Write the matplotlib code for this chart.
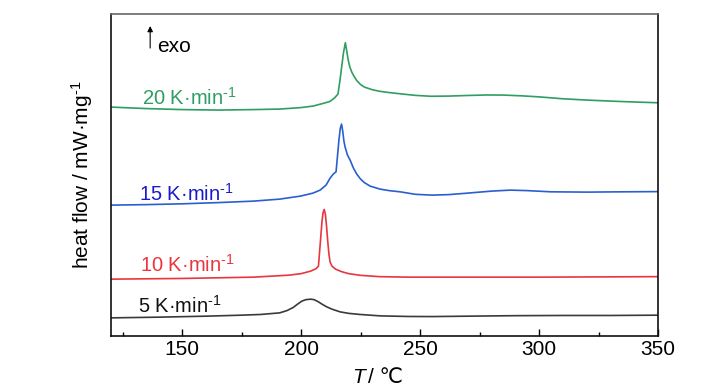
import matplotlib
matplotlib.use("Agg")
import matplotlib.pyplot as plt
from matplotlib.ticker import MultipleLocator

FAM = ['Liberation Sans', 'DejaVu Sans']
plt.rcParams['font.family'] = FAM
plt.rcParams['mathtext.fontset'] = 'custom'
plt.rcParams['mathtext.rm'] = 'Liberation Sans'
plt.rcParams['mathtext.it'] = 'Liberation Sans:italic'

# ---- data (arbitrary heat-flow units, offset curves) ----
T_20 = [120, 135, 150, 165, 180, 191, 200, 205, 209, 212, 214, 215.5, 216.3, 217, 217.8,
        218.6, 219.2, 219.8, 220.5, 221.3, 222.3, 223.4, 225, 226.6, 230, 233, 237, 241.6,
        248, 254.6, 262, 270, 278, 285, 293, 300, 310, 320, 335, 350]
hf_20 = [229, 227.5, 226.5, 226, 226.5, 227, 228.5, 230, 232.5, 234.5, 238, 242, 255, 268, 283,
         293.3, 285, 276, 269, 264, 259.5, 255.5, 251.5, 249, 246.3, 244.8, 243.5, 242.3,
         240.7, 239.8, 240, 240.6, 241.1, 241, 240.2, 239.2, 237.3, 236, 234.5, 233.3]

T_15 = [120, 135, 150, 165, 180, 191, 199.7, 205, 208, 210.5, 212.2, 213.5, 214.7, 215.3,
        215.9, 216.5, 217, 217.5, 218, 218.5, 219.5, 220.6, 222, 223.4, 225, 226.6, 229,
        233.2, 237, 241.6, 248, 255, 262, 270, 280, 288, 295, 305, 320, 335, 350]
hf_15 = [131, 131.5, 132.3, 133.5, 135, 137, 140, 143, 146, 151, 158, 162, 164.3, 180,
         196, 208, 212, 205, 195, 189, 181, 176, 168, 162, 157, 153.5, 150,
         147, 145.5, 144.3, 141.8, 141, 141.5, 143, 145, 146, 145.5, 144.3, 144, 144.3, 144.5]

T_10 = [120, 150, 180, 195, 200, 204, 206.3, 207.3, 207.8, 208.3, 208.8, 209.2, 209.7,
        210.2, 210.7, 211.2, 211.7, 212.2, 213, 214.5, 217, 220, 225, 233, 245, 270, 300, 350]
hf_10 = [57, 57.7, 59, 61, 62.5, 65, 67.5, 70, 85, 100, 115, 123, 126.7,
         122, 110, 95, 82, 74, 70, 67, 64.5, 62.5, 60.8, 59.5, 59, 59, 59, 59.5]

T_5 = [120, 140, 160, 175, 183, 191, 194, 196.7, 198.5, 200.3, 202, 204, 205.5, 207.3,
       209, 210.8, 213, 216.4, 220, 224.8, 233.2, 245, 255, 270, 290, 310, 330, 350]
hf_5 = [18.3, 19, 20, 21, 21.7, 23.3, 25.5, 28.7, 32, 35, 36.5, 37, 36.5, 34.3,
        31.7, 29.3, 27, 24.3, 22.8, 21.7, 20.3, 19.7, 19.6, 20, 20.5, 20.7, 20.7, 21]

rate_labels = ['20 K·min$^{\\text{-}1}$', '15 K·min$^{\\text{-}1}$',
               '10 K·min$^{\\text{-}1}$', '5 K·min$^{\\text{-}1}$']
label_T = [133.2, 131.9, 132.4, 131.5]
label_hf = [231, 135, 64.5, 23.5]

line_colors = ['#2e9e62', '#2a5fd0', '#e8363f', '#3a3a3a']
text_colors = ['#2e9e62', '#1a1acc', '#e8363f', '#111111']

fig = plt.figure(figsize=(7.28, 3.9), dpi=100)
ax = fig.add_axes([0.152, 0.138, 0.752, 0.826])

for T, hf, c in zip([T_20, T_15, T_10, T_5], [hf_20, hf_15, hf_10, hf_5], line_colors):
    ax.plot(T, hf, color=c, lw=1.2, solid_joinstyle='round')

for lab, x, y, c in zip(rate_labels, label_T, label_hf, text_colors):
    ax.text(x, y, lab, color=c, fontsize=14.5, va='baseline', ha='left')

ax.annotate('', xy=(136.6, 310), xytext=(136.6, 288),
            arrowprops=dict(arrowstyle='-|>', color='black', lw=0.8, mutation_scale=8,
                            shrinkA=0, shrinkB=0))
ax.text(139.5, 284, 'exo', fontsize=15, va='baseline', ha='left')

ax.set_xlim(120, 350)
ax.set_ylim(0, 322)
ax.xaxis.set_major_locator(MultipleLocator(50))
ax.xaxis.set_minor_locator(MultipleLocator(25))
ax.tick_params(axis='x', which='major', direction='in', length=5, width=1, labelsize=15, pad=3)
ax.tick_params(axis='x', which='minor', direction='in', length=3, width=1)
ax.set_yticks([])
for s in ['left', 'bottom', 'right']:
    ax.spines[s].set_color('#111111')
    ax.spines[s].set_linewidth(1.2)
ax.spines['top'].set_color('#666666')
ax.spines['top'].set_linewidth(1.2)

# x label: italic T followed by "/ ℃"
fig.text(352 / 728, 7 / 390, 'T', fontsize=15, style='italic', va='baseline', ha='left')
fig.text(368 / 728, 7 / 390, '/ ℃', fontsize=15, va='baseline', ha='left')
ax.set_ylabel('heat flow / mW·mg$^{\\text{-}1}$', fontsize=15, labelpad=11)

fig.savefig('out.png', dpi=100)
